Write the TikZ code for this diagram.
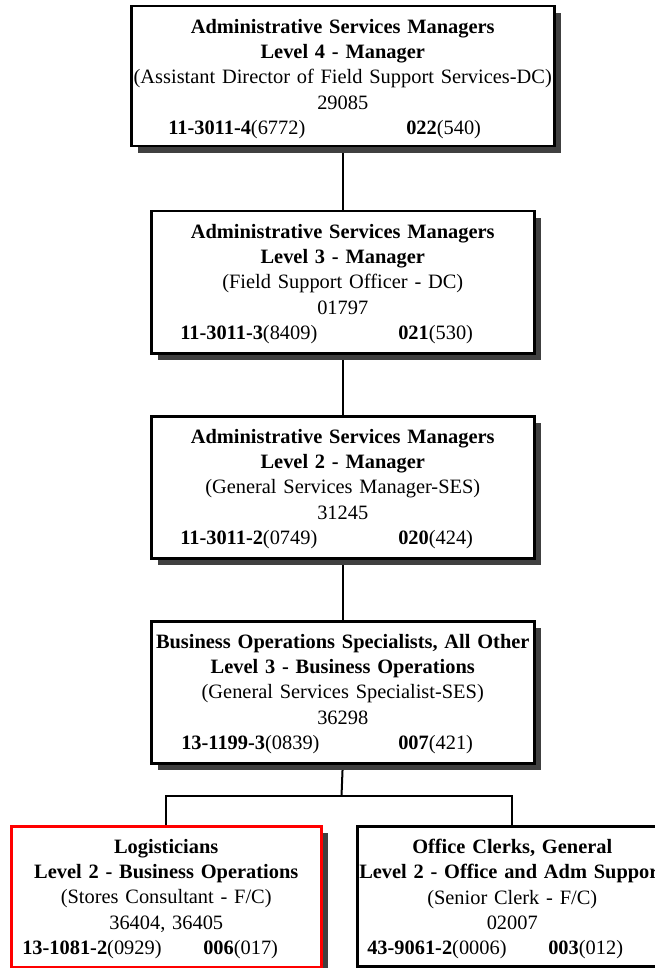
\documentclass[tikz,border=0pt]{standalone}
\usepackage{fontspec}
\setmainfont{Liberation Serif}
\usetikzlibrary{shadows}
\definecolor{shadowgray}{HTML}{404040}
\pgfdeclarelayer{bg}
\pgfsetlayers{bg,main}
\newcommand{\codeline}[5]{\makebox[#1][l]{\hspace*{#2}\rlap{#3}\hspace*{\dimexpr#4-#2\relax}#5}}
\tikzset{
  orgbox/.style={draw=black, line width=2.5pt, fill=white, inner sep=0pt, anchor=north west,
    drop shadow={shadow xshift=7pt, shadow yshift=-7pt, fill=shadowgray, opacity=1}},
  redbox/.style={orgbox, draw=red},
  boxtext/.style={anchor=north, inner sep=0pt, align=center, font=\fontsize{20.4}{25.3}\selectfont},
  link/.style={draw=black, line width=2pt},
}
\begin{document}
\begin{tikzpicture}[x=1pt,y=-1pt]
\clip (0,0) rectangle (655,968);

% boxes
\node[orgbox, minimum width=423pt, minimum height=140pt] (b1) at (130,5) {};
\node[orgbox, minimum width=383pt, minimum height=142pt] (b2) at (150,210) {};
\node[orgbox, minimum width=383pt, minimum height=142pt] (b3) at (150,415) {};
\node[orgbox, minimum width=383pt, minimum height=142pt] (b4) at (150,620) {};
\node[redbox, minimum width=310pt, minimum height=141pt] (b5) at (10,825) {};
\node[orgbox, minimum width=310pt, minimum height=140pt] (b6) at (356,825) {};

% texts
\node[boxtext, text width=423pt] (t1) at ([yshift=-14pt]b1.north) {%
  \textbf{Administrative Services Managers}\\
  \textbf{Level 4 - Manager}\\
  (Assistant Director of Field Support Services-DC)\\
  29085\\
  \codeline{423pt}{37pt}{\textbf{11-3011-4}(6772)}{275pt}{\textbf{022}(540)}};
\node[boxtext, text width=383pt] (t2) at ([yshift=-14pt]b2.north) {%
  \textbf{Administrative Services Managers}\\
  \textbf{Level 3 - Manager}\\
  (Field Support Officer - DC)\\
  01797\\
  \codeline{383pt}{29pt}{\textbf{11-3011-3}(8409)}{247pt}{\textbf{021}(530)}};
\node[boxtext, text width=383pt] (t3) at ([yshift=-14pt]b3.north) {%
  \textbf{Administrative Services Managers}\\
  \textbf{Level 2 - Manager}\\
  (General Services Manager-SES)\\
  31245\\
  \codeline{383pt}{29pt}{\textbf{11-3011-2}(0749)}{247pt}{\textbf{020}(424)}};
\node[boxtext, text width=383pt] (t4) at ([yshift=-14pt]b4.north) {%
  \textbf{Business Operations Specialists, All Other}\\
  \textbf{Level 3 - Business Operations}\\
  (General Services Specialist-SES)\\
  36298\\
  \codeline{383pt}{30pt}{\textbf{13-1199-3}(0839)}{247pt}{\textbf{007}(421)}};
\node[boxtext, text width=310pt] (t5) at ([yshift=-14pt]b5.north) {%
  \textbf{Logisticians}\\
  \textbf{Level 2 - Business Operations}\\
  (Stores Consultant - F/C)\\
  36404, 36405\\
  \codeline{310pt}{11pt}{\textbf{13-1081-2}(0929)}{192pt}{\textbf{006}(017)}};
\node[boxtext, text width=310pt] (t6) at ([yshift=-14pt]b6.north) {%
  \textbf{Office Clerks, General}\\
  \textbf{Level 2 - Office and Adm Support}\\
  (Senior Clerk - F/C)\\
  02007\\
  \codeline{310pt}{10pt}{\textbf{43-9061-2}(0006)}{191pt}{\textbf{003}(012)}};

% connectors
\coordinate (fork) at (341.5,796);
\begin{pgfonlayer}{bg}
\fill[white] (0,0) rectangle (655,968);
\draw[link] (b1.south) -- (b2.north);
\draw[link] (b2.south) -- (b3.north);
\draw[link] (b3.south) -- (b4.north);
\draw[link] (b4.south) -- (fork);
\draw[link] (b5.north) |- (fork) -| (b6.north);
\end{pgfonlayer}
\end{tikzpicture}
\end{document}
